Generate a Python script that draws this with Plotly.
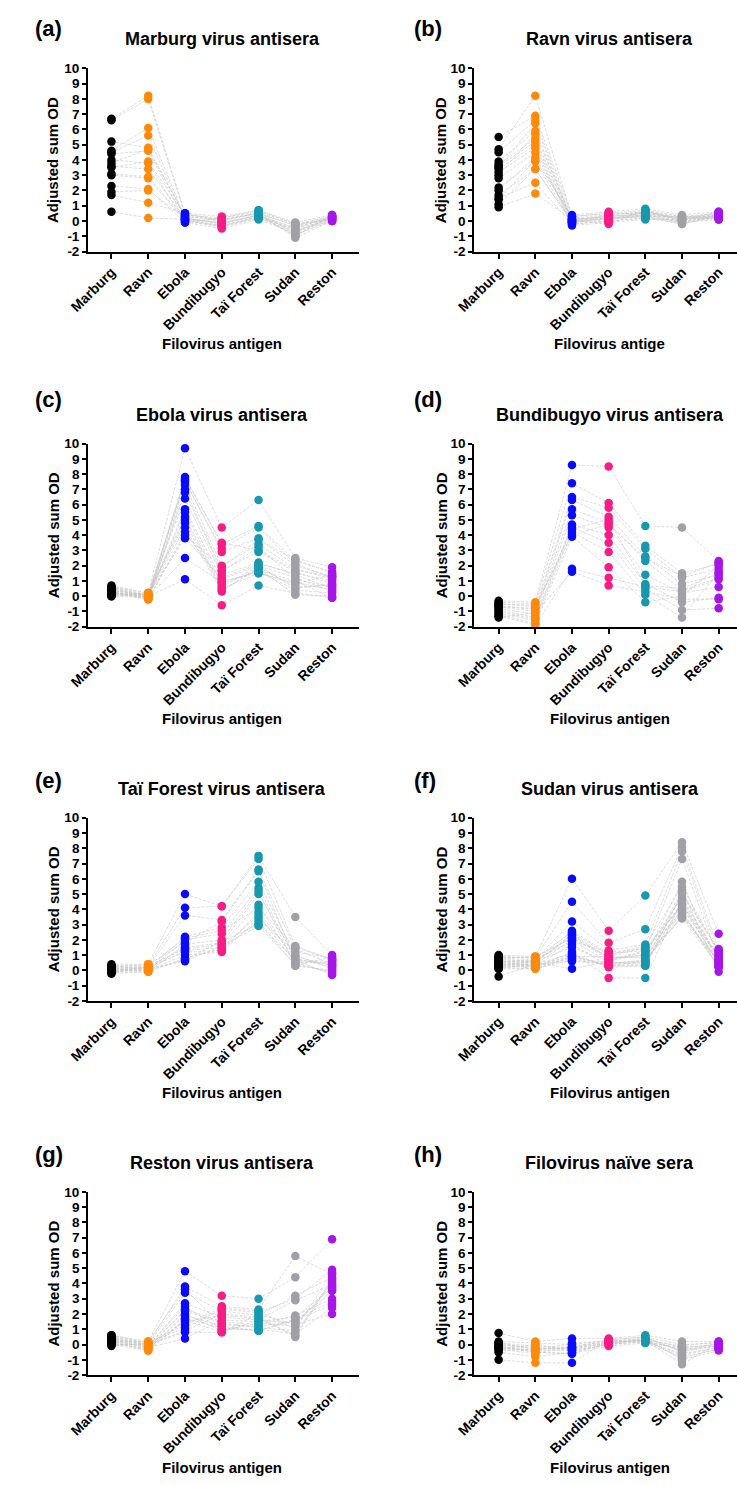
import plotly.graph_objects as go

antigens = ["Marburg", "Ravn", "Ebola", "Bundibugyo", "Taï Forest", "Sudan", "Reston"]
colors = ["#000000", "#ff8a0a", "#0a0aff", "#f81c86", "#1798ae", "#a0a0a6", "#a616e6"]

titles = ["Marburg virus antisera", "Ravn virus antisera", "Ebola virus antisera",
          "Bundibugyo virus antisera", "Taï Forest virus antisera", "Sudan virus antisera",
          "Reston virus antisera", "Filovirus naïve sera"]
labels = ["(a)", "(b)", "(c)", "(d)", "(e)", "(f)", "(g)", "(h)"]
xtitles = ["Filovirus antigen", "Filovirus antige", "Filovirus antigen", "Filovirus antigen",
           "Filovirus antigen", "Filovirus antigen", "Filovirus antigen", "Filovirus antigen"]
y_ticks = list(range(-2, 11))

# each panel: rows = antigens (Marburg..Reston), columns = individual sera
panel_a = [
    [6.7, 6.6, 5.2, 4.6, 4.5, 4.4, 4.0, 3.8, 3.6, 3.5, 3.1, 3.0, 2.3, 1.9, 1.7, 0.6],
    [8.2, 8.0, 4.8, 6.1, 5.6, 4.6, 3.8, 4.7, 3.4, 3.9, 2.9, 2.8, 2.1, 2.0, 1.2, 0.2],
    [0.5, 0.4, 0.3, 0.2, 0.1, 0.0, -0.1, 0.3, 0.2, 0.4, 0.1, 0.0, -0.1, 0.2, 0.5, 0.1],
    [0.3, 0.2, 0.1, -0.1, -0.3, -0.4, -0.5, 0.0, -0.2, 0.1, -0.1, -0.3, 0.2, -0.2, 0.0, -0.4],
    [0.7, 0.6, 0.5, 0.4, 0.3, 0.2, 0.1, 0.6, 0.4, 0.5, 0.3, 0.2, 0.7, 0.4, 0.5, 0.3],
    [-0.1, -0.2, -0.3, -0.5, -0.6, -0.7, -0.8, -0.9, -1.0, -1.1, -0.4, -0.5, -0.2, -0.7, -0.3, -0.9],
    [0.4, 0.3, 0.2, 0.1, 0.0, 0.3, 0.2, 0.1, 0.4, 0.0, 0.2, 0.3, 0.1, 0.2, 0.3, 0.0],
]
panel_b = [
    [5.5, 4.7, 4.5, 3.9, 3.7, 3.5, 3.4, 3.2, 3.0, 2.8, 2.2, 2.0, 1.7, 1.5, 1.4, 1.1, 0.9, 3.6],
    [6.9, 8.2, 6.6, 5.9, 5.4, 6.4, 5.0, 4.8, 5.7, 4.5, 3.9, 4.2, 3.4, 2.5, 4.0, 3.4, 1.8, 5.2],
    [0.4, 0.3, 0.2, 0.1, 0.0, -0.1, -0.2, -0.3, 0.1, 0.0, -0.1, 0.2, 0.0, -0.2, 0.3, -0.1, 0.1, 0.0],
    [0.6, 0.5, 0.4, 0.3, 0.2, 0.1, 0.0, -0.1, -0.2, 0.3, 0.2, 0.1, 0.4, 0.0, 0.5, 0.2, 0.3, 0.1],
    [0.8, 0.7, 0.6, 0.5, 0.4, 0.3, 0.2, 0.1, 0.7, 0.5, 0.3, 0.4, 0.6, 0.2, 0.5, 0.3, 0.4, 0.6],
    [0.4, 0.3, 0.2, 0.1, 0.0, -0.1, -0.2, 0.1, 0.0, 0.2, 0.3, -0.1, 0.1, 0.0, 0.2, -0.2, 0.1, 0.3],
    [0.6, 0.5, 0.4, 0.3, 0.2, 0.1, 0.4, 0.3, 0.5, 0.2, 0.3, 0.4, 0.6, 0.2, 0.5, 0.3, 0.4, 0.1],
]
panel_c = [
    [0.7, 0.6, 0.5, 0.4, 0.3, 0.2, 0.1, 0.0, 0.6, 0.4, 0.3, 0.2, 0.5, 0.1, 0.0, 0.3, 0.4, 0.2, 0.6, 0.1],
    [0.2, 0.1, 0.0, -0.1, -0.2, 0.1, 0.0, -0.1, 0.2, 0.0, -0.2, 0.1, -0.1, 0.0, 0.2, -0.1, 0.1, -0.2, 0.0, 0.1],
    [9.7, 7.8, 7.6, 7.3, 7.0, 6.4, 5.7, 5.5, 5.0, 4.5, 4.0, 3.8, 2.5, 1.1, 7.5, 6.8, 4.8, 4.2, 7.7, 5.2],
    [4.5, 3.4, 2.9, 2.0, 1.7, 1.4, 1.1, 0.8, 0.5, 0.3, 1.9, 1.2, 0.9, -0.6, 3.1, 1.6, 0.4, 1.0, 3.5, 0.6],
    [6.3, 4.6, 3.8, 3.4, 2.9, 2.2, 2.0, 1.7, 1.5, 1.9, 3.7, 2.1, 1.6, 0.7, 4.5, 3.2, 1.8, 1.5, 3.0, 2.0],
    [2.5, 2.3, 2.0, 1.8, 1.6, 1.4, 1.2, 1.0, 0.8, 0.6, 2.4, 1.5, 0.4, 0.2, 2.1, 1.1, 0.1, 0.9, 1.7, 0.5],
    [1.9, 1.6, 1.3, 1.1, 0.8, 0.5, 0.3, -0.1, 1.4, 0.7, 1.5, 1.0, 0.2, -0.1, 1.2, 0.6, 0.0, 0.4, 1.3, 0.8],
]
panel_d = [
    [-0.3, -0.4, -0.5, -0.6, -0.7, -0.8, -0.9, -1.0, -1.1, -1.2, -1.3, -1.4, -0.5, -0.7],
    [-0.4, -0.5, -0.7, -0.9, -1.0, -1.2, -1.4, -1.5, -1.6, -1.8, -1.9, -1.1, -0.6, -0.8],
    [8.6, 7.4, 6.5, 6.3, 5.7, 5.3, 4.7, 4.5, 4.2, 3.9, 1.8, 1.6, 4.0, 4.4],
    [8.5, 6.1, 5.8, 5.2, 4.8, 4.5, 4.0, 3.5, 2.9, 1.9, 1.2, 0.7, 4.7, 5.0],
    [4.6, 3.3, 3.1, 2.6, 2.3, 1.4, 0.8, 0.5, 0.1, -0.4, 0.6, 0.3, 2.5, 0.7],
    [4.5, 1.5, 1.2, 0.8, 0.4, 0.2, -0.4, -0.9, -1.4, 0.0, 0.3, -0.2, 1.3, 0.5],
    [2.3, 2.1, 1.8, 1.4, 1.2, 0.6, -0.1, -0.8, 1.6, 2.0, 1.1, -0.2, 2.2, 1.5],
]
panel_e = [
    [0.4, 0.3, 0.2, 0.1, 0.0, -0.1, -0.2, 0.0, 0.1, -0.1, 0.2, 0.0, -0.2, 0.1, 0.3, 0.0],
    [0.4, 0.3, 0.2, 0.1, 0.0, -0.1, 0.3, 0.2, 0.0, 0.1, 0.4, 0.2, -0.1, 0.3, 0.1, 0.0],
    [5.0, 4.1, 3.6, 2.2, 2.0, 1.7, 1.4, 1.2, 1.0, 0.6, 1.8, 1.5, 0.8, 2.1, 1.3, 0.7],
    [4.2, 4.2, 3.3, 2.8, 2.4, 2.0, 1.7, 1.3, 1.2, 1.6, 3.2, 1.8, 1.4, 2.6, 1.5, 1.9],
    [7.5, 7.3, 6.6, 5.8, 5.4, 5.2, 4.3, 3.8, 3.4, 2.9, 6.5, 5.0, 3.2, 4.1, 3.6, 3.0],
    [3.5, 1.6, 1.4, 1.0, 0.7, 0.3, 0.5, 0.8, 1.2, 0.4, 0.6, 0.9, 0.3, 1.5, 0.5, 0.7],
    [1.0, 0.7, 0.4, 0.1, -0.3, 0.9, 0.5, 0.2, 0.8, -0.1, 0.6, 0.3, 0.0, 0.7, -0.2, 0.4],
]
panel_f = [
    [1.0, 0.9, 0.8, 0.7, 0.6, 0.5, 0.4, 0.3, 0.2, 0.1, -0.4, 0.9, 0.7, 0.5, 0.3, 0.2, 0.6, 0.4, 0.8, 0.1, 0.5, 0.3],
    [0.9, 0.8, 0.7, 0.6, 0.5, 0.4, 0.3, 0.2, 0.1, 0.5, 0.4, 0.8, 0.6, 0.3, 0.2, 0.7, 0.5, 0.4, 0.9, 0.1, 0.6, 0.3],
    [6.0, 4.5, 3.2, 2.6, 2.3, 2.0, 1.7, 1.2, 0.9, 0.1, 0.6, 2.5, 2.2, 1.0, 0.8, 1.9, 2.4, 1.1, 2.1, 0.7, 1.5, 0.9],
    [2.6, 1.8, 1.3, 1.1, 0.8, 0.5, 0.3, -0.5, 0.9, 0.6, 0.4, 1.0, 0.7, 0.3, 0.5, 1.2, 0.8, 0.2, 0.9, 0.4, 0.6, 0.3],
    [4.9, 2.7, 1.7, 1.3, 0.9, 0.5, 0.3, -0.5, 1.5, 1.1, 0.7, 1.6, 1.2, 0.4, 0.6, 1.4, 1.0, 0.3, 0.8, 0.5, 1.3, 0.6],
    [8.4, 8.1, 7.8, 7.3, 5.8, 5.3, 5.0, 4.6, 4.2, 3.9, 3.5, 5.5, 4.8, 4.4, 4.0, 3.7, 3.4, 5.1, 4.5, 3.6, 4.3, 3.8],
    [2.4, 1.4, 1.1, 0.7, 0.3, -0.1, 1.3, 0.9, 0.5, 0.2, 0.6, 1.2, 0.8, 0.4, 1.0, 0.6, 0.3, 1.3, 0.7, 0.5, 0.9, 0.2],
]
panel_g = [
    [0.6, 0.5, 0.4, 0.3, 0.2, 0.1, 0.0, -0.1, 0.5, 0.3, 0.2, 0.4, 0.1, 0.0, 0.6, 0.3, 0.2, 0.4],
    [0.2, 0.1, 0.0, -0.1, -0.2, -0.3, -0.4, 0.1, 0.0, -0.2, 0.2, -0.1, -0.3, 0.0, 0.1, -0.2, -0.4, 0.0],
    [4.8, 3.8, 3.4, 2.7, 2.3, 1.9, 1.6, 1.3, 0.9, 0.4, 3.6, 2.5, 2.0, 1.5, 1.1, 2.2, 1.7, 0.8],
    [3.2, 2.5, 2.2, 1.8, 1.5, 1.2, 0.8, 2.4, 2.0, 1.6, 1.3, 1.0, 0.9, 1.9, 2.3, 1.4, 1.1, 0.8],
    [3.0, 2.3, 1.9, 1.6, 1.3, 0.9, 2.0, 2.2, 1.8, 1.5, 1.2, 1.0, 1.4, 1.7, 2.1, 1.1, 0.9, 1.6],
    [4.4, 5.8, 3.2, 2.9, 1.9, 1.6, 1.3, 1.0, 0.5, 1.8, 1.5, 0.7, 1.2, 0.6, 3.0, 0.9, 1.7, 1.4],
    [6.9, 4.6, 4.4, 3.9, 3.0, 2.6, 2.0, 4.7, 4.2, 3.7, 3.5, 2.4, 4.0, 4.3, 4.9, 3.6, 2.8, 3.8],
]
panel_h = [
    [0.75, 0.2, 0.1, 0.0, -0.1, -0.2, -0.3, -0.4, -0.5, -1.0, 0.0, -0.2, -0.3, 0.1, -0.1],
    [0.2, 0.1, -0.1, -0.3, -0.4, -0.5, -0.6, -0.3, -0.8, -1.2, -0.2, -0.4, 0.0, -0.3, -0.5],
    [0.4, 0.0, -0.2, -0.3, -0.4, -0.6, -0.1, -0.2, -0.5, -1.2, -0.3, 0.1, -0.4, -0.2, -0.6],
    [0.4, 0.3, 0.2, 0.1, 0.0, -0.1, 0.2, 0.1, 0.0, 0.3, 0.1, 0.2, 0.0, 0.3, 0.1],
    [0.6, 0.5, 0.4, 0.3, 0.2, 0.1, 0.4, 0.3, 0.2, 0.5, 0.3, 0.2, 0.4, 0.1, 0.3],
    [0.2, 0.0, -0.2, -0.4, -0.6, -0.8, -1.0, -1.3, -0.3, -0.5, -0.1, -0.7, -0.4, -0.2, -0.9],
    [0.2, 0.1, 0.0, -0.1, -0.2, -0.3, -0.4, 0.1, -0.1, 0.0, 0.2, -0.2, 0.1, 0.0, -0.3],
]
panels = [panel_a, panel_b, panel_c, panel_d, panel_e, panel_f, panel_g, panel_h]

W, H = 737, 1485
FONT = "Liberation Sans, Arial, sans-serif"
# pixel layout of the plotting areas
col_px = [(70, 348, [-0.635, 6.72]), (467, 737, [-0.663, 6.5])]
row_px = [(62, 247), (441, 626), (819, 1004), (1197, 1382)]
title_y = [32, 412, 790, 1168]
label_y = [22, 397, 781, 1159]
xtitle_y = [340, 719, 1097, 1475]
col_center = [208, 606]
label_x = [13, 403]
ytitle_x = [34, 433]

fig = go.Figure()
layout = dict(width=W, height=H, margin=dict(l=0, r=0, t=0, b=0), autosize=False,
              paper_bgcolor="white", plot_bgcolor="white", showlegend=False,
              font=dict(family=FONT, color="black"))
annotations = []

for p, data in enumerate(panels):
    r, c = divmod(p, 2)
    xa = "x" if p == 0 else f"x{p+1}"
    ya = "y" if p == 0 else f"y{p+1}"
    n = len(data[0])
    lx, ly = [], []
    for s in range(n):
        for k in range(len(antigens)):
            lx.append(k)
            ly.append(data[k][s])
        lx.append(None)
        ly.append(None)
    fig.add_trace(go.Scatter(x=lx, y=ly, mode="lines", xaxis=xa, yaxis=ya,
                             line=dict(color="#c4c4c4", width=0.6, dash="3px,1.5px"),
                             hoverinfo="skip"))
    for k, ag in enumerate(antigens):
        fig.add_trace(go.Scatter(x=[k] * n, y=data[k], mode="markers", xaxis=xa, yaxis=ya,
                                 marker=dict(size=8.5, color=colors[k], line=dict(width=0)),
                                 name=ag))
    x0, x1, xr = col_px[c]
    top, bot = row_px[r]
    key = "" if p == 0 else str(p + 1)
    layout["xaxis" + key] = dict(
        domain=[x0 / W, x1 / W], range=xr, anchor=ya,
        tickmode="array", tickvals=list(range(len(antigens))), ticktext=antigens,
        tickangle=-45, tickfont=dict(family=FONT, size=14, weight="bold", color="black"),
        showline=True, linewidth=2, linecolor="black", ticks="outside", ticklen=5,
        tickwidth=2, tickcolor="black", showgrid=False, zeroline=False, fixedrange=True)
    layout["yaxis" + key] = dict(
        domain=[1 - bot / H, 1 - top / H], range=[-2, 10], anchor=xa,
        tickmode="array", tickvals=y_ticks, ticktext=[str(v) for v in y_ticks],
        tickfont=dict(family=FONT, size=13.5, weight="bold", color="black"),
        showline=True, linewidth=2, linecolor="black", ticks="outside", ticklen=4,
        tickwidth=2, tickcolor="black", showgrid=False, zeroline=False, fixedrange=True)
    annotations.append(dict(text=titles[p], x=col_center[c] / W, y=1 - title_y[r] / H,
                            xref="paper", yref="paper", showarrow=False,
                            xanchor="center", yanchor="middle",
                            font=dict(family=FONT, size=18, weight="bold", color="black")))
    annotations.append(dict(text=labels[p], x=label_x[c] / W, y=1 - label_y[r] / H,
                            xref="paper", yref="paper", showarrow=False,
                            xanchor="left", yanchor="middle",
                            font=dict(family=FONT, size=22, weight="bold", color="black")))
    annotations.append(dict(text=xtitles[p], x=col_center[c] / W, y=1 - xtitle_y[r] / H,
                            xref="paper", yref="paper", showarrow=False,
                            xanchor="center", yanchor="middle",
                            font=dict(family=FONT, size=15, weight="bold", color="black")))
    annotations.append(dict(text="Adjusted sum OD", x=ytitle_x[c] / W,
                            y=1 - (top + bot) / 2 / H, textangle=-90,
                            xref="paper", yref="paper", showarrow=False,
                            xanchor="center", yanchor="middle",
                            font=dict(family=FONT, size=15, weight="bold", color="black")))

layout["annotations"] = annotations
fig.update_layout(**layout)
fig.write_html("out.html", config={"displayModeBar": False},
               post_script="document.body.style.margin='0';document.body.style.overflow='hidden';")
